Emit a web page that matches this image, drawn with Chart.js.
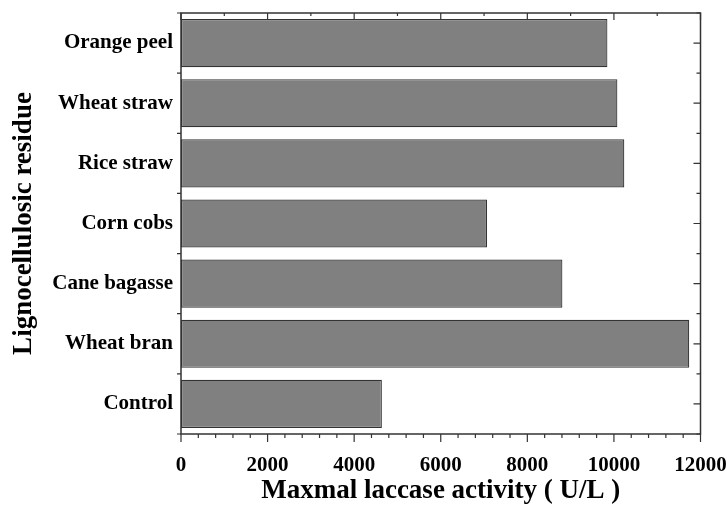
<!DOCTYPE html>
<html>
<head>
<meta charset="utf-8">
<script src="https://cdn.jsdelivr.net/npm/chart.js@4/dist/chart.umd.min.js"></script>
<style>
    html, body { margin: 0; padding: 0; background: #fff; }
    #wrap { width: 727px; height: 506px; }
</style>
</head>
<body>
<div id="wrap"><canvas id="barChart"></canvas></div>
<script>
// residues, top to bottom
const residues = ["Orange peel", "Wheat straw", "Rice straw", "Corn cobs", "Cane bagasse", "Wheat bran", "Control"];
// maximal laccase activity (U/L)
const activity = [9850, 10080, 10240, 7070, 8810, 11740, 4640];
const xMin = 0;
const xMax = 12000;
const xStep = 2000;

const FONT = "'Liberation Serif', 'Times New Roman', serif";
const AXIS = "#333";

// frame + tick marks, origin style (in on top/right, out on left/bottom)
const frameTicks = {
    id: "frameTicks",
    afterDraw(chart) {
        const ctx = chart.ctx;
        const a = chart.chartArea;
        const x = chart.scales.x;
        const y = chart.scales.y;

        ctx.save();
        ctx.strokeStyle = AXIS;
        ctx.lineWidth = 1.5;
        ctx.strokeRect(a.left, a.top, a.right - a.left, a.bottom - a.top);

        ctx.lineWidth = 1.2;
        ctx.beginPath();

        // bottom: major out 8px every 2000, minor out 4px every 400
        for (let v = xMin; v <= xMax; v += 400) {
            const px = x.getPixelForValue(v);
            const len = (v % xStep === 0) ? 8 : 4;
            ctx.moveTo(px, a.bottom);
            ctx.lineTo(px, a.bottom + len);
        }
        // top: major in 7px every 2000, minor in 3px every 1000
        for (let v = xMin; v <= xMax; v += 1000) {
            const px = x.getPixelForValue(v);
            const len = (v % xStep === 0) ? 7 : 3;
            ctx.moveTo(px, a.top);
            ctx.lineTo(px, a.top + len);
        }

        // category boundaries and centres
        const n = residues.length;
        const half = (y.getPixelForValue(1) - y.getPixelForValue(0)) / 2;
        for (let i = 0; i < n; i++) {
            const c = y.getPixelForValue(i);
            const b = c - half;
            // left: out 4px at boundaries
            ctx.moveTo(a.left, b);
            ctx.lineTo(a.left - 4, b);
            // right: in 4px at boundaries, in 7px at centres
            ctx.moveTo(a.right, b);
            ctx.lineTo(a.right - 4, b);
            ctx.moveTo(a.right, c);
            ctx.lineTo(a.right - 7, c);
        }
        ctx.moveTo(a.left, a.bottom);
        ctx.lineTo(a.left - 4, a.bottom);
        ctx.moveTo(a.right, a.bottom);
        ctx.lineTo(a.right - 4, a.bottom);
        ctx.stroke();
        ctx.restore();
    }
};

new Chart(document.getElementById("barChart"), {
    type: "bar",
    data: {
        labels: residues,
        datasets: [{
            label: "Maxmal laccase activity",
            data: activity,
            backgroundColor: "#808080",
            borderColor: "#333",
            borderWidth: 1.2,
            borderSkipped: false,
            categoryPercentage: 1.0,
            barPercentage: 0.8
        }]
    },
    options: {
        indexAxis: "y",
        responsive: true,
        maintainAspectRatio: false,
        animation: false,
        layout: {
            padding: { top: 13, right: 26.5, left: 0, bottom: 0 }
        },
        plugins: {
            legend: { display: false },
            tooltip: { enabled: false }
        },
        scales: {
            x: {
                type: "linear",
                min: xMin,
                max: xMax,
                grid: { display: false, drawTicks: false },
                border: { display: false },
                ticks: {
                    stepSize: xStep,
                    color: "#000",
                    padding: 19,
                    maxRotation: 0,
                    callback: (v) => String(v),
                    font: { family: FONT, size: 21, weight: "bold" }
                },
                title: {
                    display: true,
                    text: "Maxmal laccase activity ( U/L )",
                    color: "#000",
                    padding: { top: 0, bottom: -1 },
                    font: { family: FONT, size: 27, weight: "bold" }
                },
                afterFit(scale) {
                    scale.height = 72;
                    scale.paddingLeft = 0;
                    scale.paddingRight = 0;
                }
            },
            y: {
                grid: { display: false, drawTicks: false },
                border: { display: false },
                ticks: {
                    color: "#000",
                    padding: 8,
                    font: { family: FONT, size: 21, weight: "bold" }
                },
                title: {
                    display: true,
                    text: "Lignocellulosic residue",
                    color: "#000",
                    padding: { top: 8, bottom: 0 },
                    font: { family: FONT, size: 27, weight: "bold" }
                },
                afterFit(scale) {
                    scale.width = 181;
                    scale.paddingTop = 0;
                    scale.paddingBottom = 0;
                }
            }
        }
    },
    plugins: [frameTicks]
});
</script>
</body>
</html>
